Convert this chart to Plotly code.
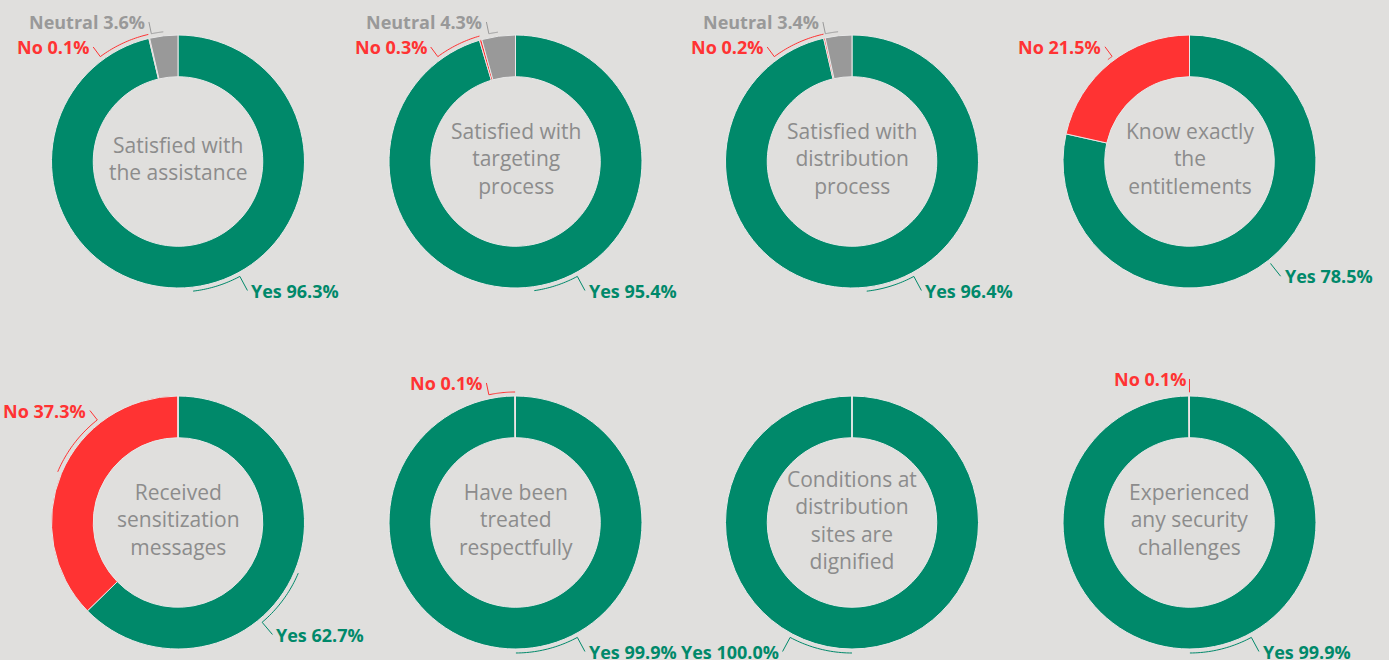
import math
import plotly.graph_objects as go

# ---------------- data ----------------
titles = [
    "Satisfied with<br>the assistance",
    "Satisfied with<br>targeting<br>process",
    "Satisfied with<br>distribution<br>process",
    "Know exactly<br>the<br>entitlements",
    "Received<br>sensitization<br>messages",
    "Have been<br>treated<br>respectfully",
    "Conditions at<br>distribution<br>sites are<br>dignified",
    "Experienced<br>any security<br>challenges",
]
categories = ["Yes", "No", "Neutral"]
yes_pct = [96.3, 95.4, 96.4, 78.5, 62.7, 99.9, 100.0, 99.9]
no_pct = [0.1, 0.3, 0.2, 21.5, 37.3, 0.1, 0.0, 0.1]
neutral_pct = [3.6, 4.3, 3.4, 0.0, 0.0, 0.0, 0.0, 0.0]

# ---------------- style / layout ----------------
W, H = 1389, 660
BG = "#E0DFDD"
colors = {"Yes": "#00896A", "No": "#FF3333", "Neutral": "#999999"}
CENTER_COLOR = "#8C8C8C"
col_cx = [178, 515.5, 852, 1189.5]
row_cy = [161.5, 522.5]
R = 126.5
HOLE = 0.67
R_LABEL = 147          # natural label radius
R_TOP, R_BOTTOM = 142.5, 146.5   # radius used to derive label x
R_CONN = R + 4
DY_MIN, DY_MAX = -139.5, 129
MIN_ABS_DY = 112
LABEL_GAP = 25
TITLE_SHIFT = -3
# manual label nudges (chart index, category) -> vertical offset from centre (px)
label_dy_override = {(7, "No"): -143.5}

fig = go.Figure()
annotations = []
shapes = []


def px2paper(x, y):
    return x / W, 1 - y / H


for i, title in enumerate(titles):
    cx = col_cx[i % 4]
    cy = row_cy[i // 4]
    vals = [yes_pct[i], no_pct[i], neutral_pct[i]]
    x0, y1 = px2paper(cx - R, cy - R)
    x1, y0 = px2paper(cx + R, cy + R)
    fig.add_trace(go.Pie(
        labels=categories, values=vals, hole=HOLE, sort=False,
        direction="clockwise", rotation=0, textinfo="none",
        hoverinfo="label+percent",
        marker=dict(colors=[colors[c] for c in categories],
                    line=dict(color="#E8E8E8", width=1)),
        domain=dict(x=[x0, x1], y=[y0, y1]), showlegend=False,
    ))
    annotations.append(dict(
        x=cx / W, y=1 - (cy + TITLE_SHIFT) / H, xref="paper", yref="paper",
        text=title, showarrow=False, xanchor="center", yanchor="middle",
        font=dict(family="Open Sans", size=21, color=CENTER_COLOR),
    ))

    # label placement
    total = sum(vals)
    start = 0.0
    labs = []
    for cat, v in zip(categories, vals):
        ang = v / total * 360
        if v > 0:
            mid = start + ang / 2
            th = math.radians(mid)
            side = "right" if math.sin(th) > 1e-9 else "left"
            dy = -R_LABEL * math.cos(th)
            if abs(dy) < MIN_ABS_DY:
                dy = MIN_ABS_DY if dy >= 0 else -MIN_ABS_DY
            dy = max(DY_MIN, min(DY_MAX, dy))
            if (i, cat) in label_dy_override:
                dy = label_dy_override[(i, cat)]
            labs.append(dict(cat=cat, v=v, mid=mid, side=side, dy=dy))
        start += ang
    # resolve overlaps per side (ordered top to bottom along the ring)
    for side in ("left", "right"):
        grp = [l for l in labs if l["side"] == side]
        grp.sort(key=lambda l: (-l["mid"] if side == "left" else l["mid"]))
        for a, b in zip(grp, grp[1:]):
            if b["dy"] - a["dy"] < LABEL_GAP:
                b["dy"] = a["dy"] + LABEL_GAP
    for l in labs:
        dy = l["dy"]
        rr = R_TOP if dy < 0 else R_BOTTOM
        dx = math.sqrt(max(rr ** 2 - dy ** 2, 0))
        if l["side"] == "left":
            dx = -dx
        ax, ay = cx + dx, cy + dy
        lab_th = math.degrees(math.atan2(dx, -dy)) % 360
        mid = l["mid"]
        diff = (lab_th - mid + 540) % 360 - 180
        pts = []
        n = 24
        for k in range(n + 1):
            t = math.radians(mid + diff * k / n)
            pts.append((cx + R_CONN * math.sin(t), cy - R_CONN * math.cos(t)))
        pts.append((ax, ay))
        path = ""
        for k, (px, py) in enumerate(pts):
            qx, qy = px2paper(px, py)
            path += ("M" if k == 0 else " L") + f" {qx:.5f},{qy:.5f}"
        shapes.append(dict(type="path", path=path, xref="paper", yref="paper",
                           line=dict(color=colors[l["cat"]], width=1)))
        annotations.append(dict(
            x=(ax + (2 if l["side"] == "right" else -2)) / W, y=1 - ay / H,
            xref="paper", yref="paper", showarrow=False,
            xanchor="left" if l["side"] == "right" else "right", yanchor="middle",
            text=f"<b>{l['cat']} {l['v']:.1f}%</b>",
            font=dict(family="Open Sans", size=18, color=colors[l["cat"]]),
        ))

fig.update_layout(
    width=W, height=H, margin=dict(l=0, r=0, t=0, b=0),
    paper_bgcolor=BG, plot_bgcolor=BG,
    annotations=annotations, shapes=shapes,
)
fig.write_html("out.html", config={"displayModeBar": False},
               post_script="document.body.style.margin='0';document.body.style.overflow='hidden';")
